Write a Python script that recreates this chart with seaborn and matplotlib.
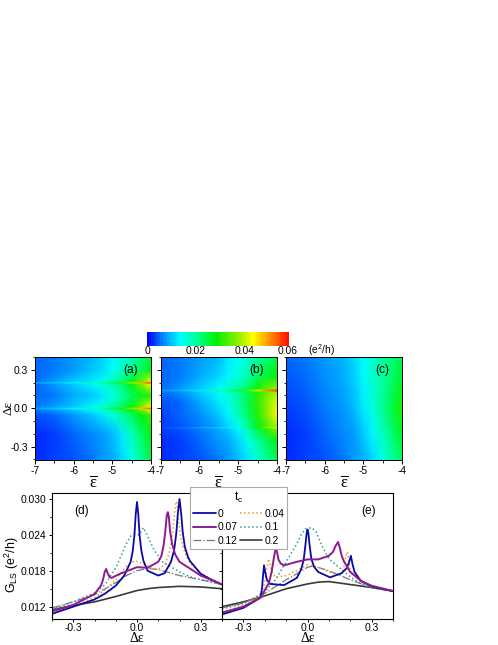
import numpy as np
import matplotlib
matplotlib.use('Agg')
import matplotlib.pyplot as plt
from matplotlib.colors import LinearSegmentedColormap
from matplotlib.ticker import MultipleLocator
from matplotlib.lines import Line2D
import seaborn as sns

sns.set_style("ticks")
plt.rcParams['font.family'] = ['Liberation Sans', 'DejaVu Sans']
plt.rcParams['mathtext.fontset'] = 'custom'
plt.rcParams['mathtext.rm'] = 'Liberation Serif'
plt.rcParams['mathtext.sf'] = 'Liberation Sans'
plt.rcParams['mathtext.fallback'] = 'stix'
for key in ['text.color', 'xtick.color', 'ytick.color', 'axes.labelcolor', 'axes.edgecolor']:
    plt.rcParams[key] = 'black'

W, H = 498, 645

# -------- colour maps (a)-(c) --------
eps_bar = [-7, -6.5, -6, -5.5, -5.25, -5, -4.75, -4.5, -4.25, -4]

rows_a = [-0.4, -0.2, -0.05, -0.012, 0, 0.012, 0.1, 0.188, 0.2, 0.212, 0.3, 0.4]
map_a = [
    [.002, .003, .0045, .0062, .0075, .0092, .0118, .0155, .0205, .026],
    [.0025, .0035, .005, .0068, .0082, .0100, .0130, .018, .024, .029],
    [.0042, .0055, .0075, .0105, .0127, .016, .020, .024, .029, .033],
    [.006, .008, .011, .0135, .016, .02, .024, .029, .037, .045],
    [.009, .011, .0135, .018, .021, .026, .031, .039, .048, .056],
    [.006, .008, .011, .0135, .016, .02, .024, .029, .037, .045],
    [.0048, .0062, .0085, .0112, .0127, .0155, .019, .024, .028, .031],
    [.0055, .0075, .0105, .0135, .016, .019, .023, .029, .037, .045],
    [.009, .011, .0135, .018, .022, .026, .032, .040, .049, .058],
    [.0055, .0075, .0105, .013, .0155, .018, .022, .028, .035, .043],
    [.0055, .0065, .0082, .0105, .012, .0145, .017, .021, .025, .029],
    [.0052, .006, .0075, .0095, .012, .0135, .016, .0185, .022, .026],
]

rows_b = [-0.4, -0.25, -0.16, -0.15, -0.14, -0.05, 0.05, 0.125, 0.14, 0.155, 0.25, 0.4]
map_b = [
    [.002, .003, .0045, .0065, .008, .0100, .0128, .0165, .021, .025],
    [.0025, .0035, .005, .0075, .0092, .0115, .015, .020, .025, .029],
    [.003, .004, .0058, .0085, .0105, .0135, .019, .026, .032, .037],
    [.0045, .006, .0085, .0115, .0135, .017, .022, .030, .038, .044],
    [.003, .0042, .0062, .0092, .0115, .0148, .020, .028, .034, .040],
    [.0035, .0048, .007, .0105, .0135, .018, .024, .031, .038, .045],
    [.004, .0055, .0085, .0125, .0155, .02, .025, .032, .038, .043],
    [.0055, .007, .0105, .0145, .017, .020, .025, .031, .036, .040],
    [.0075, .0095, .013, .018, .022, .027, .033, .042, .052, .058],
    [.0055, .0075, .011, .0145, .017, .020, .024, .030, .035, .039],
    [.005, .0065, .0088, .012, .0135, .016, .019, .024, .027, .030],
    [.005, .0058, .0075, .0098, .0125, .0145, .017, .0205, .023, .026],
]

rows_c = [-0.4, -0.2, 0, 0.2, 0.4]
map_c = [
    [.002, .003, .0045, .006, .0075, .0092, .0118, .0155, .020, .024],
    [.0025, .0035, .005, .0068, .0082, .0105, .014, .0185, .023, .028],
    [.0032, .0042, .0058, .0078, .0095, .0125, .0165, .021, .026, .031],
    [.0042, .0052, .0068, .0088, .0105, .0135, .017, .0205, .024, .028],
    [.0052, .006, .0075, .0095, .0118, .0145, .0175, .0205, .023, .026],
]

# -------- line cuts (d) --------
d_x0 = [-.4, -.3, -.2, -.15, -.1, -.06, -.03, -.02, -.012, -.006, 0, .006, .012, .02, .03, .05, .1, .13, .16, .175, .185, .192, .2, .208, .215, .225, .24, .25, .3, .35, .4]
d_y0 = [.0108, .0120, .0132, .0142, .0155, .0172, .0195, .0213, .0240, .0275, .0295, .0275, .024, .0215, .0197, .0180, .0172, .0176, .0195, .0215, .0243, .0275, .030, .0275, .0245, .022, .0203, .0196, .0175, .0165, .0157]
d_x1 = [-.4, -.3, -.2, -.17, -.16, -.152, -.145, -.138, -.13, -.12, -.08, 0, .05, .1, .115, .125, .133, .14, .145, .15, .155, .165, .18, .2, .3, .4]
d_y1 = [.0112, .0123, .0141, .0155, .0165, .0178, .0183, .0176, .0170, .0168, .0175, .0186, .0185, .0195, .0205, .0222, .0245, .0272, .0278, .027, .0248, .0225, .0207, .0195, .0172, .0157]
d_x2 = [-.4, -.3, -.2, -.15, -.1, -.05, -.01, .03, .07, .1, .13, .15, .165, .175, .182, .187, .193, .2, .21, .23, .25, .3, .4]
d_y2 = [.0112, .0122, .0135, .0148, .0165, .0188, .0197, .0192, .0184, .0183, .0190, .0207, .0235, .027, .0292, .0296, .0275, .0250, .0228, .0205, .0193, .0175, .0158]
d_x3 = [-.4, -.3, -.2, -.15, -.1, -.05, -.03, -.01, .01, .03, .05, .08, .12, .2, .25, .3, .4]
d_y3 = [.0115, .0128, .0143, .0157, .0185, .0225, .0238, .0241, .024, .0252, .0238, .0215, .0195, .0178, .0170, .0165, .0157]
d_x4 = [-.4, -.3, -.2, -.1, -.05, 0, .05, .1, .15, .2, .3, .4]
d_y4 = [.0118, .0128, .0140, .0160, .0172, .0180, .0184, .0182, .0177, .0172, .0165, .0158]
d_x5 = [-.4, -.3, -.2, -.1, -.05, 0, .05, .1, .15, .2, .3, .4]
d_y5 = [.0115, .0122, .0128, .0137, .0142, .0147, .0150, .0152, .0153, .0154, .0153, .0150]

# -------- line cuts (e) --------
e_x0 = [-.4, -.3, -.22, -.213, -.208, -.203, -.198, -.19, -.175, -.11, -.05, -.03, -.018, -.01, -.004, 0, .004, .01, .018, .03, .05, .106, .16, .185, .195, .203, .21, .22, .25, .3, .4]
e_y0 = [.0107, .0118, .0135, .0150, .0172, .0189, .0178, .0165, .0158, .0156, .0168, .0182, .0198, .0222, .0243, .0249, .0243, .0222, .02, .0187, .0178, .0169, .0176, .0185, .0195, .0205, .0192, .0178, .0163, .0154, .0146]
e_x1 = [-.4, -.3, -.22, -.18, -.168, -.158, -.15, -.147, -.142, -.135, -.125, -.11, -.05, 0, .05, .1, .12, .132, .143, .15, .16, .17, .2, .25, .3, .4]
e_y1 = [.0110, .0120, .0135, .0160, .0178, .0200, .0216, .0218, .0210, .0198, .0192, .0189, .0195, .0199, .0199, .0205, .0212, .0222, .0228, .022, .0205, .0196, .0178, .0163, .0155, .0146]
e_x2 = [-.4, -.3, -.22, -.2, -.19, -.182, -.175, -.165, -.15, -.1, -.05, 0, .05, .1, .15, .17, .18, .186, .192, .2, .25, .3, .4]
e_y2 = [.0111, .0122, .0138, .0160, .0185, .0200, .0190, .0178, .0169, .0172, .0180, .0190, .0186, .0178, .0172, .0185, .0205, .0212, .0200, .018, .0162, .0154, .0146]
e_x3 = [-.4, -.3, -.2, -.15, -.1, -.05, -.03, -.01, .02, .04, .07, .1, .15, .2, .25, .3, .4]
e_y3 = [.0116, .0125, .0145, .0165, .0195, .0225, .0240, .0250, .0252, .0245, .022, .0200, .0185, .0170, .0158, .0152, .0146]
e_x4 = [-.4, -.3, -.2, -.1, -.05, 0, .03, .1, .2, .3, .4]
e_y4 = [.0118, .0126, .0142, .0165, .0175, .0186, .0188, .0180, .0165, .0152, .0146]
e_x5 = [-.4, -.3, -.2, -.1, 0, .05, .1, .2, .3, .4]
e_y5 = [.0120, .0128, .0138, .0150, .0158, .0161, .0162, .0157, .0152, .0146]

tc_labels = ['0', '0.04', '0.07', '0.1', '0.12', '0.2']
tc_colors = ['#0a0aa8', '#f59a23', '#8e1a8e', '#2f9c9c', '#777777', '#3a3a3a']
tc_styles = ['-', ':', '-', ':', '-.', '-']
tc_widths = [1.3, 1.1, 1.4, 1.1, 0.9, 1.2]

cmap = LinearSegmentedColormap.from_list(
    'rainbow_origin',
    [(0, '#0000ff'), (.10, '#0080ff'), (.23, '#00ffff'), (.37, '#00ff80'), (.49, '#00f000'),
     (.66, '#a0f000'), (.75, '#ffff00'), (.87, '#ff9000'), (1, '#ff1000')], N=64)


def px_axes(x0, y0, x1, y1):
    return fig.add_axes([x0 / W, 1 - y1 / H, (x1 - x0) / W, (y1 - y0) / H])


fig = plt.figure(figsize=(W / 100, H / 100), dpi=100)

# colour bar strip
cax = px_axes(147, 332, 289, 345.5)
sns.heatmap(np.linspace(0, 0.06, 64).reshape(1, -1), cmap=cmap, vmin=0, vmax=0.06,
            cbar=False, xticklabels=False, yticklabels=False, ax=cax)
for xp, s in zip([147, 196, 245, 288], ['0', '0.02', '0.04', '0.06']):
    fig.text(xp / W, 1 - 351 / H, s, ha='center', va='center', fontsize=7.4)
fig.text(321 / W, 1 - 350 / H, '(e$^{\\mathsf{2}}$/h)', ha='center', va='center', fontsize=7.4)

# maps
boxes = [(35, 151), (160.5, 277), (286, 402)]
for (x0, x1), rows, vals, tag in zip(boxes, [rows_a, rows_b, rows_c], [map_a, map_b, map_c], ['(a)', '(b)', '(c)']):
    ax = px_axes(x0, 357, x1, 459.5)
    ax.pcolormesh(eps_bar, rows, np.array(vals), shading='gouraud', cmap=cmap, vmin=0, vmax=0.06)
    ax.set_xlim(-7, -4)
    ax.set_ylim(-0.4, 0.4)
    ax.set_xticks([-7, -6, -5, -4])
    ax.set_xticklabels(['-7', '-6', '-5', '-4'])
    ax.set_yticks([-0.3, 0, 0.3])
    ax.xaxis.set_minor_locator(MultipleLocator(0.5))
    ax.yaxis.set_minor_locator(MultipleLocator(0.1))
    if tag == '(a)':
        ax.set_yticklabels(['-0.3', '0.0', '0.3'])
    else:
        ax.set_yticklabels([])
    ax.tick_params(which='major', length=3, width=0.7, labelsize=7.4, pad=2)
    ax.tick_params(which='minor', length=1.8, width=0.6)
    for sp in ax.spines.values():
        sp.set_linewidth(0.7)
    ax.text(-4.52, 0.3, tag, ha='center', va='center', fontsize=8.6)
    ax.set_xlabel(r'$\overline{\mathrm{\varepsilon}}$', fontsize=12, labelpad=-2)
fig.text(8 / W, 1 - 408 / H, 'Δε', rotation=90, ha='center', va='center', fontsize=9.5,
         family=['Liberation Serif', 'DejaVu Sans'])

# line cuts
d_curves = [(d_x0, d_y0), (d_x2, d_y2), (d_x1, d_y1), (d_x3, d_y3), (d_x4, d_y4), (d_x5, d_y5)]
e_curves = [(e_x0, e_y0), (e_x2, e_y2), (e_x1, e_y1), (e_x3, e_y3), (e_x4, e_y4), (e_x5, e_y5)]
for (x0, x1), curves, tag in zip([(52, 222), (222, 393)], [d_curves, e_curves], ['(d)', '(e)']):
    ax = px_axes(x0, 493, x1, 619)
    for i in [5, 4, 3, 1, 0, 2]:
        sns.lineplot(x=curves[i][0], y=curves[i][1], color=tc_colors[i], linestyle=tc_styles[i],
                     linewidth=tc_widths[i], sort=False, estimator=None, errorbar=None, ax=ax)
    ax.set_xlim(-0.4, 0.4)
    ax.set_ylim(0.00994, 0.031)
    ax.set_xticks([-0.3, 0, 0.3])
    ax.set_xticklabels(['-0.3', '0.0', '0.3'])
    ax.set_yticks([0.012, 0.018, 0.024, 0.030])
    ax.xaxis.set_minor_locator(MultipleLocator(0.1))
    ax.yaxis.set_minor_locator(MultipleLocator(0.003))
    if tag == '(d)':
        ax.set_yticklabels(['0.012', '0.018', '0.024', '0.030'])
    else:
        ax.set_yticklabels([])
    ax.tick_params(which='major', length=2.5, width=0.7, labelsize=7.4, pad=0.5)
    ax.tick_params(which='minor', length=1.5, width=0.6)
    ax.tick_params(axis='y', which='major', pad=1.5)
    for sp in ax.spines.values():
        sp.set_linewidth(0.8)
    ax.text(-0.26 if tag == '(d)' else 0.288, 0.02805, tag, ha='center', va='center', fontsize=8.6)
    xc = (x0 + x1) / 2
    fig.text(xc / W, 1 - 639 / H, 'Δε', ha='center', va='center', fontsize=10,
             family=['Liberation Serif', 'DejaVu Sans'])
fig.text(12 / W, 1 - 565 / H, 'G$_{\\mathsf{LS}}$ (e$^{\\mathsf{2}}$/h)', rotation=90,
         ha='center', va='center', fontsize=9)

# shared legend box sits over both panels, filled row by row in the original
order = [0, 2, 4, 1, 3, 5]
handles = [Line2D([], [], color=tc_colors[i], linestyle=tc_styles[i], linewidth=tc_widths[i]) for i in order]
leg = fig.legend(handles, [tc_labels[i] for i in order], ncol=2, title='t$_{\\mathsf{c}}$',
                 title_fontsize=8.6, fontsize=7.4,
                 loc='upper left', bbox_to_anchor=(190 / W, 1 - 487 / H), borderaxespad=0,
                 handlelength=2.2, handletextpad=0.2, columnspacing=0.2, labelspacing=0.35,
                 borderpad=0.3, fancybox=False, framealpha=1, edgecolor='#aaaaaa')
leg.get_frame().set_linewidth(0.8)
leg.set_zorder(10)

fig.savefig('out.png', dpi=100)
